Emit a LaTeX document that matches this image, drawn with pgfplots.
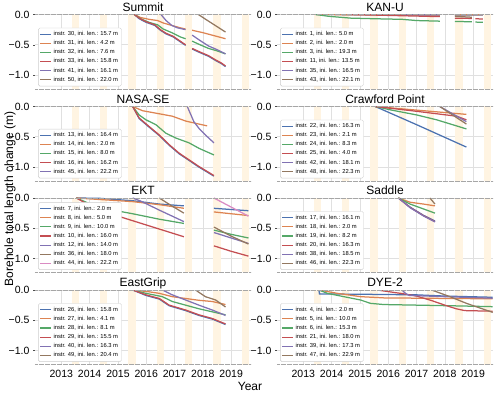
\documentclass[border=0pt]{standalone}
\usepackage{fontspec}
\setmainfont{Liberation Sans}
\usepackage{pgfplots}
\pgfplotsset{compat=1.18}

\definecolor{c0}{HTML}{4C72B0}
\definecolor{c1}{HTML}{DD8452}
\definecolor{c2}{HTML}{55A868}
\definecolor{c3}{HTML}{C44E52}
\definecolor{c4}{HTML}{8172B3}
\definecolor{c5}{HTML}{937860}
\definecolor{c6}{HTML}{DA8BC3}
\definecolor{band}{RGB}{255,244,226}

% summer shading, one band per year
\newcommand{\bands}{%
  \pgfplotsinvokeforeach{2013,...,2019}{\fill[band] (axis cs:##1.37,-1.23) rectangle (axis cs:##1.63,0);}%
}

\pgfplotsset{
  shortline/.style={legend image code/.code={\draw[#1, line width=1.1pt] (0pt,0pt) -- (10.5pt,0pt);}},
}
\pgfplotsset{
  panel/.style={
    scale only axis, width=216pt, height=74.5pt,
    anchor=north west,
    xmin=2012.07, xmax=2019.7, ymin=-1.23, ymax=0,
    xtick={2013,...,2019}, xticklabels={},
    ytick={-1,-0.5,0}, yticklabels={−1.0,−0.5,0.0},
    grid=major, major grid style={black!12, line width=0.6pt},
    axis line style={draw=none},
    xtick style={draw=none},
    ytick style={black!70, line width=0.5pt},
    ytick pos=left, tick align=outside, major tick length=2pt,
    tick label style={font=\fontsize{10.5}{12}\selectfont},
    title style={anchor=base, yshift=-2.6pt, inner sep=0pt, font=\fontsize{12}{14}\selectfont},
    unbounded coords=jump,
    every axis plot/.append style={line width=1.25pt},
    legend style={at={(0.015,0.035)}, anchor=south west,
      font=\fontsize{5.8}{6.5}\selectfont, draw=black!20, rounded corners=1.5pt,
      inner sep=1.5pt, row sep=-0.6pt, fill=white},
    legend cell align=left,
    shortline,
    after end axis/.code={\draw[black!35, line width=0.6pt, dash pattern=on 0.45pt off 0.75pt]
      (rel axis cs:0,0) -- (rel axis cs:1,0) (rel axis cs:0,1) -- (rel axis cs:1,1);},
  },
  bottom/.style={xticklabels={2013,2014,2015,2016,2017,2018,2019}},
}

\begin{document}
\begin{tikzpicture}
\path[use as bounding box] (0,0) rectangle (500pt,-395pt);

% ---------------- Summit
\begin{axis}[panel, at={(35pt,-14.5pt)}, title={Summit}]
\bands
\addplot[c0] coordinates {(2015.58,0) (2015.75,-0.07) (2016.0,-0.13) (2016.3,-0.18) (2016.5,-0.26) (2016.7,-0.32) (2016.95,-0.37) (2017.2,-0.45) (2017.39,-0.51) (2017.5,nan) (2017.62,-0.57) (2017.9,-0.63) (2018.2,-0.69) (2018.45,-0.76) (2018.65,-0.81) (2018.80,-0.86)};
\addlegendentry{instr. 30, ini. len.: 15.7 m}
\addplot[c1] coordinates {(2015.58,0) (2015.8,-0.05) (2016.1,-0.08) (2016.4,-0.10) (2016.6,-0.14) (2016.9,-0.18) (2017.2,-0.22) (2017.39,-0.24) (2017.5,nan) (2017.62,-0.26) (2018.0,-0.30) (2018.4,-0.35) (2018.8,-0.40)};
\addlegendentry{instr. 31, ini. len.: 4.2 m}
\addplot[c2] coordinates {(2015.58,0) (2015.8,-0.07) (2016.1,-0.13) (2016.4,-0.17) (2016.6,-0.24) (2016.9,-0.30) (2017.2,-0.37) (2017.39,-0.40) (2017.5,nan) (2017.62,-0.44) (2017.9,-0.50) (2018.2,-0.56) (2018.5,-0.60) (2018.8,-0.65)};
\addlegendentry{instr. 32, ini. len.: 7.6 m}
\addplot[c3] coordinates {(2015.58,0) (2015.75,-0.06) (2016.0,-0.12) (2016.3,-0.17) (2016.5,-0.25) (2016.7,-0.31) (2016.95,-0.36) (2017.2,-0.44) (2017.39,-0.50) (2017.5,nan) (2017.62,-0.56) (2017.9,-0.62) (2018.2,-0.68) (2018.45,-0.75) (2018.65,-0.80) (2018.80,-0.85)};
\addlegendentry{instr. 33, ini. len.: 15.8 m}
\addplot[c4] coordinates {(2016.52,0) (2016.7,-0.10) (2016.9,-0.18) (2017.1,-0.22) (2017.39,-0.25) (2017.5,nan) (2017.62,-0.34) (2017.9,-0.43) (2018.2,-0.52) (2018.5,-0.58) (2018.8,-0.65)};
\addlegendentry{instr. 41, ini. len.: 16.1 m}
\addplot[c5] coordinates {(2017.84,0) (2018.1,-0.08) (2018.4,-0.17) (2018.8,-0.29)};
\addlegendentry{instr. 50, ini. len.: 22.0 m}
\end{axis}

% ---------------- KAN-U
\begin{axis}[panel, at={(277pt,-14.5pt)}, title={KAN-U}]
\bands
\addplot[c0] coordinates {(2013.44,0) (2017.82,-0.01) (2018.0,nan) (2018.35,-0.01) (2019.34,-0.01)};
\addlegendentry{instr. 1, ini. len.: 5.0 m}
\addplot[c1] coordinates {(2013.44,0) (2015.0,-0.005) (2017.82,-0.01) (2018.0,nan) (2018.35,-0.005) (2019.34,-0.005)};
\addlegendentry{instr. 2, ini. len.: 2.0 m}
\addplot[c2] coordinates {(2013.44,0) (2013.9,-0.03) (2014.67,-0.06) (2015.5,-0.07) (2016.5,-0.08) (2017.0,-0.10) (2017.82,-0.11) (2018.0,nan) (2018.35,-0.115) (2018.95,-0.12) (2019.0,nan) (2019.08,-0.125) (2019.34,-0.13)};
\addlegendentry{instr. 3, ini. len.: 19.3 m}
\addplot[c3] coordinates {(2014.6,0) (2016.0,-0.015) (2017.82,-0.035) (2018.0,nan) (2018.35,-0.06) (2018.95,-0.065) (2019.0,nan) (2019.08,-0.07) (2019.34,-0.075)};
\addlegendentry{instr. 11, ini. len.: 13.5 m}
\addplot[c4] coordinates {(2016.5,0) (2017.82,-0.005)};
\addlegendentry{instr. 35, ini. len.: 16.5 m}
\addplot[c5] coordinates {(2018.35,-0.03) (2018.95,-0.045)};
\addlegendentry{instr. 43, ini. len.: 22.1 m}
\end{axis}

% ---------------- NASA-SE
\begin{axis}[panel, at={(35pt,-106.5pt)}, title={NASA-SE}]
\bands
\addplot[c0] coordinates {(2015.52,0) (2015.75,-0.20) (2016.10,-0.34) (2016.46,-0.48) (2016.81,-0.64) (2017.16,-0.78) (2017.51,-0.89) (2017.86,-1.00) (2018.39,-1.15)};
\addlegendentry{instr. 13, ini. len.: 16.4 m}
\addplot[c1] coordinates {(2015.52,0) (2015.87,-0.07) (2016.34,-0.11) (2016.92,-0.16) (2017.39,-0.24) (2017.86,-0.29) (2018.15,-0.32)};
\addlegendentry{instr. 14, ini. len.: 2.0 m}
\addplot[c2] coordinates {(2015.52,0) (2015.75,-0.14) (2015.99,-0.22) (2016.34,-0.30) (2016.69,-0.44) (2017.04,-0.52) (2017.51,-0.60) (2017.86,-0.69) (2018.39,-0.80)};
\addlegendentry{instr. 15, ini. len.: 8.0 m}
\addplot[c3] coordinates {(2015.52,0) (2015.75,-0.19) (2016.10,-0.33) (2016.46,-0.47) (2016.81,-0.63) (2017.16,-0.77) (2017.51,-0.88) (2017.86,-0.99) (2018.39,-1.14)};
\addlegendentry{instr. 16, ini. len.: 16.2 m}
\addplot[c4] coordinates {(2017.45,0) (2017.68,-0.25) (2017.86,-0.36) (2018.09,-0.47) (2018.39,-0.60)};
\addlegendentry{instr. 45, ini. len.: 22.2 m}
\end{axis}

% ---------------- Crawford Point
\begin{axis}[panel, at={(277pt,-106.5pt)}, title={Crawford Point}]
\bands
\addplot[c0] coordinates {(2015.54,0) (2017.0,-0.30) (2018.76,-0.67)};
\addlegendentry{instr. 22, ini. len.: 16.3 m}
\addplot[c1] coordinates {(2015.54,0) (2017.01,-0.06) (2018.76,-0.13)};
\addlegendentry{instr. 23, ini. len.: 2.1 m}
\addplot[c2] coordinates {(2015.54,0) (2016.07,-0.055) (2017.01,-0.14) (2017.71,-0.22) (2018.76,-0.37)};
\addlegendentry{instr. 24, ini. len.: 8.3 m}
\addplot[c3] coordinates {(2015.54,0) (2017.01,-0.08) (2018.41,-0.16) (2018.76,-0.22)};
\addlegendentry{instr. 25, ini. len.: 4.0 m}
\addplot[c4] coordinates {(2017.82,0) (2018.76,-0.25)};
\addlegendentry{instr. 42, ini. len.: 18.1 m}
\addplot[c5] coordinates {(2017.82,0) (2018.76,-0.29)};
\addlegendentry{instr. 48, ini. len.: 22.3 m}
\end{axis}

% ---------------- EKT
\begin{axis}[panel, at={(35pt,-198pt)}, title={EKT}]
\bands
\addplot[c0] coordinates {(2013.53,0) (2014.35,-0.005) (2015.52,-0.045) (2016.46,-0.10) (2017.33,-0.13) (2017.8,nan) (2018.39,-0.17) (2019.0,-0.19) (2019.61,-0.21)};
\addlegendentry{instr. 7, ini. len.: 2.0 m}
\addplot[c1] coordinates {(2013.53,0) (2015.52,-0.06) (2016.46,-0.11) (2017.33,-0.17) (2017.8,nan) (2018.39,-0.23) (2019.0,-0.26) (2019.61,-0.29)};
\addlegendentry{instr. 8, ini. len.: 5.0 m}
\addplot[c2] coordinates {(2013.53,0) (2013.88,-0.07) (2014.35,-0.155) (2014.94,-0.21) (2015.52,-0.26) (2016.46,-0.35) (2017.33,-0.42) (2017.8,nan) (2018.39,-0.53) (2019.0,-0.60) (2019.61,-0.66)};
\addlegendentry{instr. 9, ini. len.: 10.0 m}
\addplot[c3] coordinates {(2013.53,0) (2014.12,-0.155) (2014.94,-0.29) (2016.10,-0.46) (2017.33,-0.64) (2017.8,nan) (2018.39,-0.79) (2019.0,-0.88) (2019.61,-0.96)};
\addlegendentry{instr. 10, ini. len.: 16.0 m}
\addplot[c4] coordinates {(2015.52,0) (2015.8,-0.05) (2016.46,-0.20) (2017.33,-0.39) (2017.8,nan) (2018.39,-0.57) (2019.0,-0.66) (2019.61,-0.75)};
\addlegendentry{instr. 12, ini. len.: 14.0 m}
\addplot[c5] coordinates {(2016.46,0) (2016.9,-0.13) (2017.33,-0.25) (2017.8,nan) (2018.39,-0.48) (2019.0,-0.63) (2019.61,-0.76)};
\addlegendentry{instr. 36, ini. len.: 18.0 m}
\addplot[c6] coordinates {(2018.39,0) (2019.0,-0.15) (2019.61,-0.30)};
\addlegendentry{instr. 44, ini. len.: 22.2 m}
\end{axis}

% ---------------- Saddle
\begin{axis}[panel, at={(277pt,-198pt)}, title={Saddle}]
\bands
\addplot[c0] coordinates {(2016.36,0) (2016.77,-0.15) (2017.24,-0.285) (2017.65,-0.38)};
\addlegendentry{instr. 17, ini. len.: 16.1 m}
\addplot[c1] coordinates {(2016.36,0) (2016.77,-0.07) (2017.24,-0.10) (2017.65,-0.13)};
\addlegendentry{instr. 18, ini. len.: 2.0 m}
\addplot[c2] coordinates {(2016.36,0) (2016.77,-0.10) (2017.24,-0.18) (2017.65,-0.25)};
\addlegendentry{instr. 19, ini. len.: 8.2 m}
\addplot[c3] coordinates {(2016.36,0) (2016.77,-0.155) (2017.24,-0.29) (2017.65,-0.39)};
\addlegendentry{instr. 20, ini. len.: 16.3 m}
\addplot[c4] coordinates {(2016.36,0) (2016.77,-0.16) (2017.24,-0.295) (2017.65,-0.395)};
\addlegendentry{instr. 38, ini. len.: 18.5 m}
\addplot[c5] coordinates {(2017.47,0) (2017.65,-0.10)};
\addlegendentry{instr. 46, ini. len.: 22.3 m}
\end{axis}

% ---------------- EastGrip
\begin{axis}[panel, bottom, at={(35pt,-290pt)}, title={EastGrip}]
\bands
\addplot[c0] coordinates {(2015.52,0) (2015.99,-0.09) (2016.46,-0.15) (2016.81,-0.26) (2017.39,-0.34) (2017.86,-0.42) (2018.33,-0.48) (2018.80,-0.57)};
\addlegendentry{instr. 26, ini. len.: 15.8 m}
\addplot[c1] coordinates {(2015.52,0) (2016.10,-0.03) (2016.46,-0.055) (2016.92,-0.11) (2017.39,-0.14) (2017.86,-0.17) (2018.33,-0.19) (2018.80,-0.24)};
\addlegendentry{instr. 27, ini. len.: 4.1 m}
\addplot[c2] coordinates {(2015.52,0) (2015.99,-0.055) (2016.57,-0.11) (2016.92,-0.19) (2017.39,-0.25) (2017.86,-0.31) (2018.33,-0.36) (2018.80,-0.41)};
\addlegendentry{instr. 28, ini. len.: 8.1 m}
\addplot[c3] coordinates {(2015.52,0) (2015.99,-0.08) (2016.46,-0.14) (2016.81,-0.25) (2017.39,-0.33) (2017.86,-0.41) (2018.33,-0.47) (2018.80,-0.56)};
\addlegendentry{instr. 29, ini. len.: 15.5 m}
\addplot[c4] coordinates {(2016.57,0) (2016.92,-0.08) (2017.39,-0.165) (2017.86,-0.25) (2018.33,-0.33) (2018.80,-0.42)};
\addlegendentry{instr. 40, ini. len.: 16.3 m}
\addplot[c5] coordinates {(2017.74,0) (2018.09,-0.11) (2018.45,-0.165) (2018.80,-0.28)};
\addlegendentry{instr. 49, ini. len.: 20.4 m}
\end{axis}

% ---------------- DYE-2
\begin{axis}[panel, bottom, at={(277pt,-290pt)}, title={DYE-2}]
\bands
\addplot[c0] coordinates {(2013.55,0) (2013.57,-0.065) (2015.0,-0.07) (2017.0,-0.08) (2018.0,-0.10) (2019.69,-0.12)};
\addlegendentry{instr. 4, ini. len.: 2.0 m}
\addplot[c1] coordinates {(2013.55,0) (2014.2,-0.055) (2015.02,-0.11) (2015.84,-0.13) (2018.18,-0.14) (2019.69,-0.145)};
\addlegendentry{instr. 5, ini. len.: 10.0 m}
\addplot[c2] coordinates {(2013.55,0) (2013.85,-0.055) (2014.43,-0.11) (2015.02,-0.165) (2015.37,-0.22) (2015.84,-0.24) (2018.18,-0.26) (2019.69,-0.275)};
\addlegendentry{instr. 6, ini. len.: 15.3 m}
\addplot[c3] coordinates {(2015.6,0) (2016.5,-0.06) (2017.0,-0.10) (2017.5,-0.17) (2018.0,-0.25) (2018.4,-0.31) (2018.7,-0.34) (2019.69,-0.35)};
\addlegendentry{instr. 21, ini. len.: 18.0 m}
\addplot[c4] coordinates {(2016.48,0) (2016.62,-0.06) (2016.75,-0.09) (2018.0,-0.11) (2019.69,-0.135)};
\addlegendentry{instr. 39, ini. len.: 17.3 m}
\addplot[c5] coordinates {(2017.53,0) (2018.18,-0.11) (2018.76,-0.22) (2019.69,-0.37)};
\addlegendentry{instr. 47, ini. len.: 22.9 m}
\end{axis}

\node[rotate=90, font=\fontsize{12}{14}\selectfont] at (10pt,-199pt) {Borehole total length change (m)};
\node[font=\fontsize{12}{14}\selectfont] at (250pt,-386pt) {Year};
\end{tikzpicture}
\end{document}
